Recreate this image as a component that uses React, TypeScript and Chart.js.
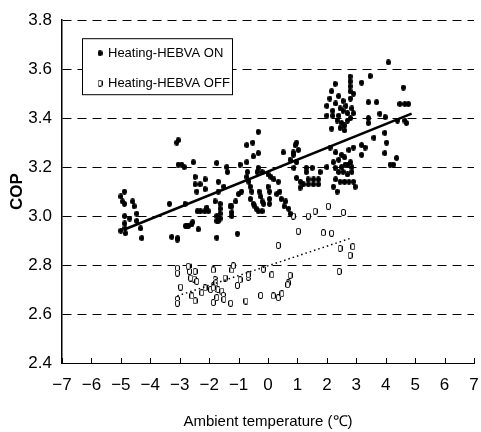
import React, { useEffect, useRef } from "react";
import { Chart, registerables } from "chart.js";

Chart.register(...registerables);

// ---- data ----
const xTickValues = [-7, -6, -5, -4, -3, -2, -1, 0, 1, 2, 3, 4, 5, 6, 7];
const yRange = [2.4, 3.8];
const seriesLabels = ["Heating-HEBVA ON", "Heating-HEBVA OFF"];
const xTitle = "Ambient temperature (\u2103)";
const yTitle = "COP";

// Heating, HEBVA ON: [ambient temperature, COP]
const onPoints: number[][] = [
  [-5.0, 3.08], [-4.95, 3.06], [-4.88, 3.1], [-4.88, 3.05], [-4.87, 3.0], [-4.87, 2.97], [-4.86, 2.95],
  [-4.85, 2.93], [-5.0, 2.94], [-4.6, 3.06], [-4.55, 3.04], [-4.46, 3.01], [-4.46, 2.98], [-4.33, 2.95],
  [-4.29, 2.91], [-4.7, 2.99],
  [-3.35, 3.05], [-3.27, 2.915], [-3.08, 2.904], [-3.07, 2.91], [-3.1, 3.3], [-3.05, 3.31], [-3.05, 3.21],
  [-2.93, 3.21], [-2.54, 3.22], [-2.82, 3.05], [-2.8, 2.96], [-2.7, 2.96], [-2.76, 2.958], [-2.59, 2.966],
  [-2.56, 2.975], [-2.37, 2.946], [-2.48, 3.16], [-2.48, 3.13], [-2.42, 3.1], [-2.31, 3.13], [-2.4, 3.02],
  [-2.3, 3.02], [-2.15, 3.02], [-2.14, 3.15], [-2.14, 3.11], [-2.08, 3.035], [-2.03, 3.02], [-2.85, 3.2],
  [-1.74, 2.912], [-1.04, 2.928], [-1.74, 2.98], [-1.69, 2.98], [-1.74, 3.0], [-1.63, 3.05], [-1.63, 3.03],
  [-1.63, 3.01], [-1.63, 2.99], [-1.29, 3.04], [-1.23, 3.04], [-1.23, 3.015], [-1.23, 3.0], [-1.74, 3.217],
  [-1.4, 3.2], [-0.95, 3.21], [-0.72, 3.22], [-1.38, 3.18], [-0.7, 3.18], [-1.69, 3.14], [-1.69, 3.1],
  [-1.0, 3.09], [-0.9, 3.1], [-0.72, 3.16], [-0.65, 3.14], [-0.6, 3.12], [-0.55, 3.1], [-0.6, 3.07],
  [-0.5, 3.05], [-0.45, 3.04], [-0.4, 3.03], [-0.33, 3.02], [-0.3, 3.1], [-0.25, 3.08], [-0.2, 3.06],
  [-0.15, 3.05], [-0.2, 3.02], [-0.72, 3.29], [-0.52, 3.3], [-0.33, 3.344], [-0.5, 3.244], [-0.33, 3.257],
  [-0.33, 3.197], [-0.37, 3.18], [-0.2, 3.18], [-1.8, 3.06], [-1.5, 3.12], [-1.1, 3.06],
  [0.0, 3.17], [0.1, 3.16], [0.2, 3.15], [0.35, 3.14], [0.4, 3.1], [0.45, 3.07], [0.55, 3.04], [0.6, 3.06],
  [0.7, 3.03], [0.75, 3.01], [0.05, 3.1], [0.05, 3.07], [0.05, 3.05], [0.52, 3.26], [0.86, 3.26], [0.97, 3.3],
  [0.75, 3.23], [0.92, 3.29], [1.03, 3.27], [0.86, 3.25], [0.97, 3.22], [1.3, 3.18], [1.77, 3.18],
  [0.97, 3.156], [1.1, 3.14], [1.2, 3.13], [1.37, 3.13], [1.54, 3.13], [1.71, 3.13], [1.09, 3.116],
  [0.88, 3.197], [1.3, 3.197], [1.5, 3.197], [1.36, 3.15], [1.71, 3.15], [1.55, 3.15], [0.3, 3.09], [0.0, 3.12],
  [2.79, 3.57], [2.79, 3.55], [2.79, 3.53], [2.79, 3.51], [3.18, 3.545], [3.47, 3.572], [2.28, 3.54],
  [2.16, 3.51], [2.0, 3.45], [2.1, 3.48], [2.3, 3.46], [2.4, 3.49], [2.55, 3.47], [2.65, 3.45], [2.8, 3.48],
  [2.9, 3.5], [2.85, 3.44], [2.2, 3.43], [2.0, 3.41], [2.2, 3.41], [2.4, 3.41], [2.5, 3.38], [2.6, 3.37],
  [2.7, 3.39], [2.8, 3.4], [2.9, 3.42], [2.45, 3.36], [2.6, 3.35], [2.16, 3.357], [2.35, 3.39], [2.55, 3.43],
  [2.45, 3.44], [2.7, 3.42],
  [2.11, 3.28], [2.3, 3.26], [2.5, 3.25], [2.6, 3.24], [2.75, 3.27], [2.9, 3.28], [2.22, 3.22], [2.28, 3.197],
  [2.4, 3.23], [2.5, 3.2], [2.62, 3.21], [2.7, 3.21], [2.8, 3.22], [2.85, 3.2], [2.4, 3.18], [2.55, 3.18],
  [2.7, 3.17], [2.85, 3.18], [2.3, 3.15], [2.45, 3.14], [2.6, 3.14], [2.75, 3.14], [2.9, 3.14], [2.22, 3.12],
  [2.96, 3.12], [2.35, 3.1], [2.0, 3.2],
  [4.09, 3.628], [3.41, 3.465], [3.69, 3.465], [3.41, 3.4], [3.41, 3.38], [3.8, 3.418], [3.98, 3.404],
  [4.6, 3.525], [4.48, 3.458], [4.65, 3.458], [4.77, 3.458], [4.4, 3.39], [4.7, 3.38], [4.65, 3.39],
  [3.97, 3.34], [4.03, 3.3], [3.97, 3.257], [4.37, 3.237], [4.15, 3.21], [4.26, 3.21], [3.6, 3.32],
  [3.18, 3.29], [3.18, 3.25], [3.3, 3.28],
];

// Heating, HEBVA OFF: [ambient temperature, COP]
const offPoints: number[][] = [
  [-3.08, 2.787], [-3.08, 2.767], [-2.67, 2.795], [-2.67, 2.774], [-2.48, 2.774], [-2.63, 2.747],
  [-2.51, 2.743], [-2.97, 2.71], [-3.08, 2.66], [-3.08, 2.644], [-2.59, 2.674], [-2.48, 2.654],
  [-2.25, 2.687], [-2.14, 2.707], [-1.95, 2.7], [-1.86, 2.715], [-1.8, 2.74], [-1.77, 2.727], [-1.7, 2.7],
  [-1.86, 2.707], [-1.86, 2.78], [-1.57, 2.694], [-1.52, 2.676], [-1.5, 2.66], [-1.74, 2.667],
  [-1.86, 2.647], [-1.46, 2.747], [-1.23, 2.78], [-1.18, 2.797], [-1.27, 2.644], [-0.95, 2.74],
  [-1.04, 2.717], [-0.67, 2.75], [-0.67, 2.76], [-0.75, 2.653], [-0.25, 2.676], [-0.16, 2.783],
  [0.18, 2.674], [0.35, 2.667], [0.47, 2.683], [0.69, 2.727], [0.75, 2.758], [0.13, 2.76], [0.35, 2.88],
  [1.03, 2.938], [1.88, 2.932], [2.16, 2.93], [2.42, 2.774], [2.45, 2.868], [2.79, 2.84], [2.88, 2.875],
  [0.86, 3.0], [1.37, 3.0], [1.6, 3.02], [2.05, 3.04], [2.56, 3.015], [-2.71, 2.795], [-2.42, 2.733],
  [0.67, 2.72],
];

// linear trend lines: [intercept, slope] and [x start, x end]
const onTrendCoef = [3.182, 0.0485];
const onTrendRange = [-4.86, 4.88];
const offTrendCoef = [2.797, 0.04];
const offTrendRange = [-3.08, 2.86];

const FONT = "'Liberation Sans', Arial, Helvetica, sans-serif";

function trendLine(coef: number[], range: number[]) {
  return range.map((x) => ({ x, y: coef[0] + coef[1] * x }));
}

function makeMarker(filled: boolean): HTMLCanvasElement {
  const c = document.createElement("canvas");
  const w = 5;
  const h = filled ? 6 : 7;
  c.width = w;
  c.height = h;
  const g = c.getContext("2d")!;
  if (filled) {
    g.fillStyle = "#000";
    g.beginPath();
    g.ellipse(w / 2, h / 2, w / 2, h / 2, 0, 0, Math.PI * 2);
    g.fill();
  } else {
    g.fillStyle = "#fff";
    g.fillRect(0, 0, w, h);
    g.strokeStyle = "#000";
    g.lineWidth = 1;
    g.beginPath();
    g.roundRect(0.5, 0.5, w - 1, h - 1, 1.5);
    g.stroke();
  }
  return c;
}

export default function App() {
  const ref = useRef<HTMLCanvasElement | null>(null);

  useEffect(() => {
    document.body.style.margin = "0";
    const canvas = ref.current;
    if (!canvas) return;
    const onMarker = makeMarker(true);
    const offMarker = makeMarker(false);

    const boxLegend = {
      id: "boxLegend",
      afterDraw(chart: any) {
        const { ctx, chartArea } = chart;
        const left = chartArea.left + 20;
        const top = chartArea.top + 18;
        const w = 150;
        const h = 56;
        ctx.save();
        ctx.fillStyle = "#fff";
        ctx.fillRect(left, top, w, h);
        ctx.strokeStyle = "#000";
        ctx.lineWidth = 1;
        ctx.strokeRect(left + 0.5, top + 0.5, w, h);
        ctx.font = `13px ${FONT}`;
        ctx.fillStyle = "#000";
        ctx.textBaseline = "middle";
        const rows = [
          { img: onMarker, label: seriesLabels[0], y: top + 15 },
          { img: offMarker, label: seriesLabels[1], y: top + 45 },
        ];
        for (const r of rows) {
          ctx.drawImage(r.img, left + 18 - r.img.width / 2, r.y - r.img.height / 2);
          ctx.fillText(r.label, left + 26, r.y);
        }
        ctx.restore();
      },
    };

    const innerTicks = {
      id: "innerTicks",
      afterDatasetsDraw(chart: any) {
        const { ctx } = chart;
        const xs = chart.scales.x;
        ctx.save();
        ctx.strokeStyle = "#000";
        ctx.lineWidth = 1;
        ctx.beginPath();
        for (const v of xTickValues) {
          const px = Math.round(xs.getPixelForValue(v)) + 0.5;
          ctx.moveTo(px, xs.top);
          ctx.lineTo(px, xs.top - 5);
        }
        ctx.stroke();
        ctx.restore();
      },
    };

    const chart = new Chart(canvas, {
      type: "scatter",
      data: {
        datasets: [
          {
            label: "on-trend",
            data: trendLine(onTrendCoef, onTrendRange),
            showLine: true,
            borderColor: "#000",
            borderWidth: 2.5,
            pointRadius: 0,
          },
          {
            label: "off-trend",
            data: trendLine(offTrendCoef, offTrendRange),
            showLine: true,
            borderColor: "#000",
            borderWidth: 1.5,
            borderDash: [1.5, 3],
            pointRadius: 0,
          },
          {
            label: seriesLabels[0],
            data: onPoints.map(([x, y]) => ({ x, y })),
            pointStyle: onMarker,
            pointRadius: 3,
          },
          {
            label: seriesLabels[1],
            data: offPoints.map(([x, y]) => ({ x, y })),
            pointStyle: offMarker,
            pointRadius: 3,
          },
        ],
      },
      options: {
        responsive: false,
        animation: false,
        devicePixelRatio: 1,
        layout: { padding: { top: 15, right: 7, left: 0, bottom: 0 } },
        plugins: { legend: { display: false }, tooltip: { enabled: false } },
        scales: {
          x: {
            type: "linear",
            min: xTickValues[0],
            max: xTickValues[xTickValues.length - 1],
            afterBuildTicks: (s: any) => {
              s.ticks = xTickValues.map((value) => ({ value }));
            },
            afterFit: (s: any) => {
              s.height = 69;
              s.paddingRight = 0;
              s.paddingLeft = 0;
            },
            grid: { drawOnChartArea: false, drawTicks: false },
            border: { display: true, color: "#000", width: 1 },
            ticks: {
              color: "#000",
              font: { family: FONT, size: 17 },
              padding: 12,
              callback: (v: any) => (Number(v) < 0 ? "\u2212" + Math.abs(Number(v)) : String(v)),
            },
            title: {
              display: true,
              text: xTitle,
              color: "#000",
              font: { family: FONT, size: 15 },
              padding: { top: 0, bottom: 1 },
            },
          },
          y: {
            type: "linear",
            min: yRange[0],
            max: yRange[1],
            afterFit: (s: any) => {
              s.width = 62;
            },
            ticks: {
              stepSize: 0.2,
              color: "#000",
              font: { family: FONT, size: 17 },
              padding: 10,
              callback: (v: any) => Number(v).toFixed(1),
            },
            grid: { color: "#000", lineWidth: 1, drawTicks: false },
            border: { display: true, color: "#000", width: 1.5, dash: [9, 6] },
            title: {
              display: true,
              text: yTitle,
              color: "#000",
              font: { family: FONT, size: 17, weight: "bold" },
              padding: { top: 7, bottom: 0 },
            },
          },
        },
      },
      plugins: [boxLegend, innerTicks],
    } as any);

    return () => chart.destroy();
  }, []);

  return <canvas ref={ref} width={481} height={432} style={{ display: "block" }} />;
}
